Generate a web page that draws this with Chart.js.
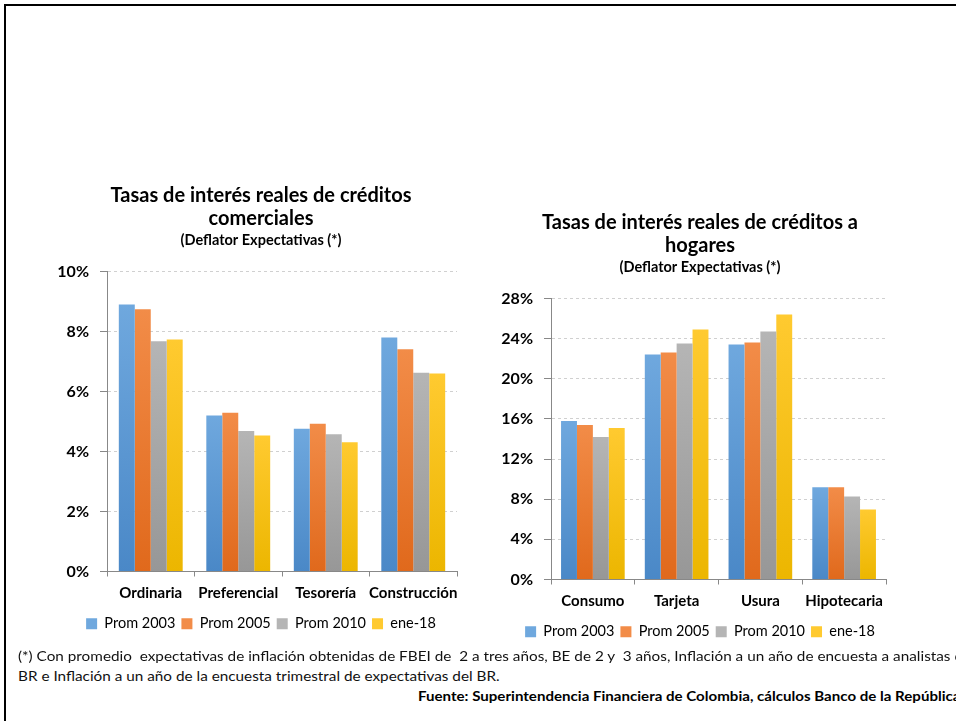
<!DOCTYPE html>
<html lang="es">
<head>
  <meta charset="UTF-8">
  <title>Tasas de interés reales</title>
  <script src="https://cdn.jsdelivr.net/npm/chart.js"></script>
  <style>
    body { margin: 0; width: 956px; height: 721px; background: #fff; overflow: hidden; position: relative; font-family: Lato, "Open Sans", sans-serif; }
    .frame { position: absolute; left: 4px; top: 4px; width: 1000px; height: 800px; border-top: 2px solid #000; border-left: 2px solid #000; }
    .box { position: absolute; }
    .note { position: absolute; left: 18px; white-space: nowrap; font-size: 14px; color: #111; transform-origin: left center; }
    .src { position: absolute; left: 418px; top: 688px; white-space: nowrap; font-size: 13px; font-weight: bold; color: #000; transform-origin: left center; }
  </style>
</head>
<body>
  <div class="frame"></div>
  <div class="box" style="left:40px; top:170px; width:442px; height:471px;"><canvas id="comerciales"></canvas></div>
  <div class="box" style="left:480px; top:197px; width:440px; height:452px;"><canvas id="hogares"></canvas></div>
  <div class="note" id="n1" style="top:647px;">(*) Con promedio&nbsp; expectativas de inflación obtenidas de FBEI de&nbsp; 2 a tres años, BE de 2 y&nbsp; 3 años, Inflación a un año de encuesta a analistas de</div>
  <div class="note" id="n2" style="top:667px;">BR e Inflación a un año de la encuesta trimestral de expectativas del BR.</div>
  <div class="src" id="src">Fuente: Superintendencia Financiera de Colombia, cálculos Banco de la República</div>

  <script>
    // series labels
    const seriesNames = ['Prom 2003', 'Prom 2005', 'Prom 2010', 'ene-18'];

    // commercial credit (%)
    const comCategories = ['Ordinaria', 'Preferencial', 'Tesorería', 'Construcción'];
    const com2003 = [8.9, 5.2, 4.76, 7.8];
    const com2005 = [8.74, 5.29, 4.92, 7.41];
    const com2010 = [7.67, 4.68, 4.57, 6.62];
    const comEne18 = [7.73, 4.53, 4.31, 6.6];

    // household credit (%)
    const hogCategories = ['Consumo', 'Tarjeta', 'Usura', 'Hipotecaria'];
    const hog2003 = [15.8, 22.4, 23.4, 9.2];
    const hog2005 = [15.4, 22.6, 23.6, 9.2];
    const hog2010 = [14.2, 23.5, 24.7, 8.26];
    const hogEne18 = [15.1, 24.9, 26.4, 6.97];

    const palette = [
      ['#6fa8de', '#4a88c7'],
      ['#f28c48', '#e0691c'],
      ['#b5b5b5', '#979797'],
      ['#ffca30', '#ecb600']
    ];

    const FONT = 'Lato, "Open Sans", sans-serif';

    function barFill(i) {
      return function (ctx) {
        const chart = ctx.chart;
        const area = chart.chartArea;
        if (!area || ctx.type !== 'data') return palette[i][0];
        const y = chart.scales.y;
        const top = y.getPixelForValue(ctx.raw);
        const g = chart.ctx.createLinearGradient(0, top, 0, area.bottom);
        g.addColorStop(0, palette[i][0]);
        g.addColorStop(1, palette[i][1]);
        return g;
      };
    }

    // y labels sit left of the narrow axis box; widen their clip area
    const unclipY = {
      id: 'unclipY',
      afterLayout(chart) { chart.scales.y.left = 0; }
    };

    function makeChart(id, cats, series, title, yMax, yStep, axisW, pad, catPct) {
      new Chart(document.getElementById(id), {
        type: 'bar',
        data: {
          labels: cats,
          datasets: series.map((d, i) => ({
            label: seriesNames[i],
            data: d,
            backgroundColor: barFill(i),
            borderWidth: 0,
            barPercentage: 1,
            categoryPercentage: catPct
          }))
        },
        plugins: [unclipY],
        options: {
          responsive: true,
          maintainAspectRatio: false,
          animation: false,
          layout: { padding: pad },
          plugins: {
            title: {
              display: true,
              text: title,
              color: '#000',
              font: { family: FONT, size: 20, weight: 'bold', lineHeight: 1.15 },
              padding: { top: 14, bottom: 0 }
            },
            subtitle: {
              display: true,
              text: '(Deflator Expectativas (*)',
              color: '#000',
              font: { family: FONT, size: 14.5, weight: 'bold', lineHeight: 1.2 },
              padding: { top: 2, bottom: 22 }
            },
            legend: {
              position: 'bottom',
              labels: {
                boxWidth: 11,
                boxHeight: 11,
                padding: 6,
                color: '#404040',
                font: { family: FONT, size: 14.5 },
                generateLabels: (chart) => chart.data.datasets.map((ds, i) => ({
                  text: ds.label,
                  fillStyle: palette[i][0],
                  strokeStyle: palette[i][0],
                  lineWidth: 0,
                  datasetIndex: i
                }))
              }
            },
            tooltip: { enabled: false }
          },
          scales: {
            x: {
              grid: { drawOnChartArea: false, drawTicks: true, tickLength: 5, color: '#888', offset: true },
              border: { display: true, color: '#888', width: 1 },
              ticks: { color: '#000', padding: 8, maxRotation: 0, autoSkip: false, font: { family: FONT, size: 15, weight: 'bold' } }
            },
            y: {
              min: 0,
              max: yMax,
              afterFit: (s) => { s.width = axisW; },
              grid: { color: '#d0d0d0', tickColor: '#888', tickLength: 7, lineWidth: 1 },
              border: { display: true, color: '#888', width: 1, dash: [3, 3] },
              ticks: {
                stepSize: yStep,
                color: '#000',
                padding: 11,
                font: { family: FONT, size: 16, weight: 'bold' },
                callback: (v) => v + '%'
              }
            }
          }
        }
      });
    }

    makeChart('comerciales', comCategories, [com2003, com2005, com2010, comEne18],
      ['Tasas de interés reales de créditos', 'comerciales'], 10, 2, 42,
      { left: 25, right: 25, top: 0, bottom: 0 }, 0.73);

    makeChart('hogares', hogCategories, [hog2003, hog2005, hog2010, hogEne18],
      ['Tasas de interés reales de créditos a', 'hogares'], 28, 4, 37,
      { left: 34, right: 34, top: 0, bottom: 0 }, 0.76);

    // fit the footnote text to the slide's widths
    const n2 = document.getElementById('n2');
    const k = 482 / n2.scrollWidth;
    n2.style.transform = 'scaleX(' + k + ')';
    document.getElementById('n1').style.transform = 'scaleX(' + k + ')';
    const src = document.getElementById('src');
    src.style.transform = 'scaleX(' + (542 / src.scrollWidth) + ')';
  </script>
</body>
</html>
